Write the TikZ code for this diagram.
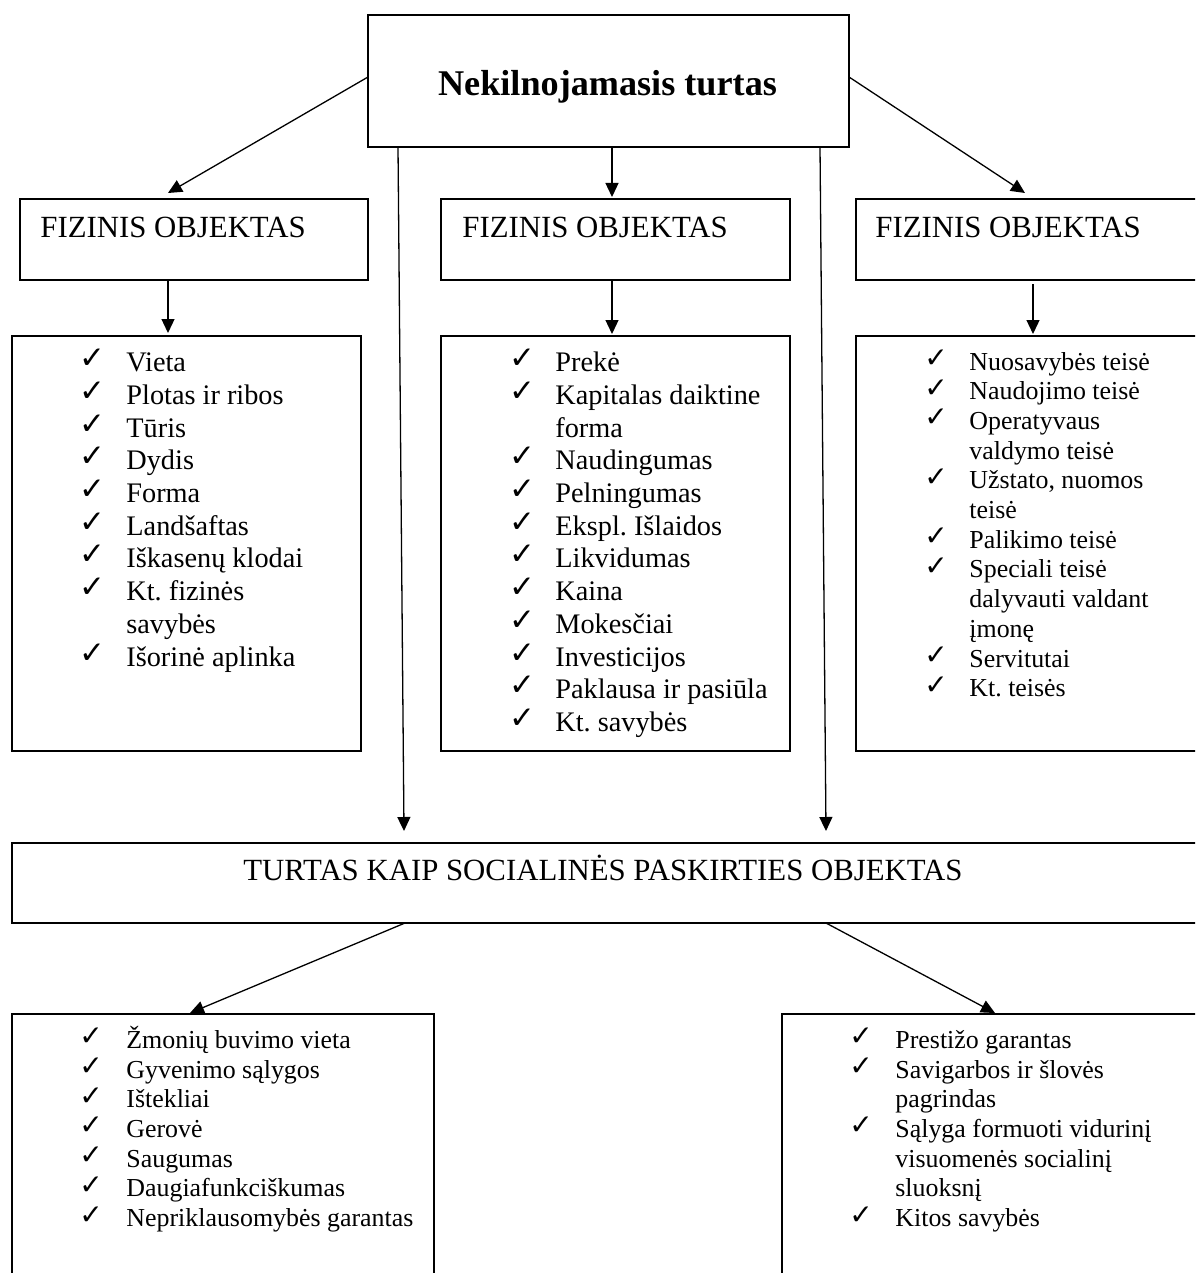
\documentclass[tikz,border=0pt]{standalone}
\usepackage{fontspec}
\setmainfont{Liberation Serif}
\newfontfamily\ckfont{DejaVu Sans}
\usetikzlibrary{arrows.meta,calc,fit}
\frenchspacing
\begin{document}
\begin{tikzpicture}[x=0.5pt,y=-0.5pt,
  box/.style={draw,line width=0.85pt,inner sep=0pt,outer sep=0pt,rectangle},
  arr/.style={line width=0.65pt,-{Triangle[length=7pt,width=6.5pt]}},
  ttl/.style={font=\fontsize{18.1}{20}\selectfont\bfseries,anchor=base,inner sep=0pt},
  hd/.style={font=\fontsize{15.4}{18}\selectfont,anchor=base west,inner sep=0pt},
  itA/.style={font=\fontsize{14.15}{16}\selectfont,anchor=base west,inner sep=0pt},
  itB/.style={font=\fontsize{12.95}{15}\selectfont,anchor=base west,inner sep=0pt},
  ckA/.style={font=\ckfont\fontsize{15.5}{16}\selectfont,anchor=base west,inner sep=0pt},
  ckB/.style={font=\ckfont\fontsize{14}{15}\selectfont,anchor=base west,inner sep=0pt},
]
\clip (0,0) rectangle (1195,1273);
\fill[white] (0,0) rectangle (1195,1273);

% boxes
\node[box,fit={(368,15)(849,147)}] (top) {};
\node[box,fit={(20,199)(368,280)}] (fizL) {};
\node[box,fit={(441,199)(790,280)}] (fizM) {};
\node[box,fit={(856,199)(1400,280)}] (fizR) {};
\node[box,fit={(12,336)(361,751)}] (listL) {};
\node[box,fit={(441,336)(790,751)}] (listM) {};
\node[box,fit={(856,336)(1400,751)}] (listR) {};
\node[box,fit={(12,843)(1400,923)}] (wide) {};
\node[box,fit={(12,1014)(434,1400)}] (botL) {};
\node[box,fit={(782,1014)(1400,1400)}] (botR) {};

% connectors
\draw[arr] ($(top.west)+(0,-4)$) -- ($(fizL.north west)+(148,-6)$);
\draw[arr] ($(top.east)+(0,-4)$) -- ($(fizR.north west)+(169,-6)$);
\draw[arr] ($(top.south)+(3.5,0)$) -- ($(fizM.north)+(-3.5,-2)$);
\draw[arr] ($(fizL.south)+(-26,0)$) -- ($(listL.north)+(-18.5,-3)$);
\draw[arr] ($(fizM.south)+(-3.5,0)$) -- ($(listM.north)+(-3.5,-2)$);
\draw[arr] ($(fizR.south west)+(177,4)$) -- ($(listR.north west)+(177,-2)$);
\draw[arr] ($(top.south west)+(30,0)$) -- ($(wide.north west)+(392,-12)$);
\draw[arr] ($(top.south west)+(452,0)$) -- ($(wide.north west)+(814,-12)$);
\draw[arr] ($(wide.south west)+(393,0)$) -- ($(botL.north west)+(178,-1)$);
\draw[arr] ($(wide.south west)+(814,0)$) -- ($(botR.north west)+(213,-1)$);

% headings
\node[ttl] (tT) at (607.5,95.7) {Nekilnojamasis turtas};
\node[hd] (hL) at (40,237.5) {FIZINIS OBJEKTAS};
\node[hd] (hM) at (462,237.5) {FIZINIS OBJEKTAS};
\node[hd] (hR) at (875,237) {FIZINIS OBJEKTAS};
\node[hd] (hW) at (243,880) {TURTAS KAIP SOCIALINĖS PASKIRTIES OBJEKTAS};

% lists
\foreach \c/\t [count=\i from 0] in {1/Vieta,1/Plotas ir ribos,1/Tūris,1/Dydis,1/Forma,1/Landšaftas,1/Iškasenų klodai,1/Kt. fizinės,0/savybės,1/Išorinė aplinka}{
  \node[itA] (la\i) at (126,{371.7+32.7*\i}) {\t};
  \ifnum\c=1 \node[ckA] (lc\i) at (79,{368.7+32.7*\i}) {✓};\fi
}
\foreach \c/\t [count=\i from 0] in {1/Prekė,1/Kapitalas daiktine,0/forma,1/Naudingumas,1/Pelningumas,1/Ekspl. Išlaidos,1/Likvidumas,1/Kaina,1/Mokesčiai,1/Investicijos,1/Paklausa ir pasiūla,1/Kt. savybės}{
  \node[itA] (ma\i) at (555,{371.7+32.7*\i}) {\t};
  \ifnum\c=1 \node[ckA] (mc\i) at (509,{368.7+32.7*\i}) {✓};\fi
}
\foreach \c/\t [count=\i from 0] in {1/Nuosavybės teisė,1/Naudojimo teisė,1/Operatyvaus,0/valdymo teisė,1/{Užstato, nuomos},0/teisė,1/Palikimo teisė,1/Speciali teisė,0/dalyvauti valdant,0/įmonę,1/Servitutai,1/Kt. teisės}{
  \node[itB] (ra\i) at (969,{370+29.7*\i}) {\t};
  \ifnum\c=1 \node[ckB] (rc\i) at (924,{367.5+29.7*\i}) {✓};\fi
}
\foreach \c/\t [count=\i from 0] in {1/Žmonių buvimo vieta,1/Gyvenimo sąlygos,1/Ištekliai,1/Gerovė,1/Saugumas,1/Daugiafunkciškumas,1/Nepriklausomybės garantas}{
  \node[itB] (ba\i) at (126,{1048.3+29.7*\i}) {\t};
  \ifnum\c=1 \node[ckB] (bc\i) at (79,{1045.8+29.7*\i}) {✓};\fi
}
\foreach \c/\t [count=\i from 0] in {1/Prestižo garantas,1/Savigarbos ir šlovės,0/pagrindas,1/Sąlyga formuoti vidurinį,0/visuomenės socialinį,0/sluoksnį,1/Kitos savybės}{
  \node[itB] (pa\i) at (895,{1048.3+29.7*\i}) {\t};
  \ifnum\c=1 \node[ckB] (pc\i) at (849,{1045.8+29.7*\i}) {✓};\fi
}
\end{tikzpicture}
\end{document}
